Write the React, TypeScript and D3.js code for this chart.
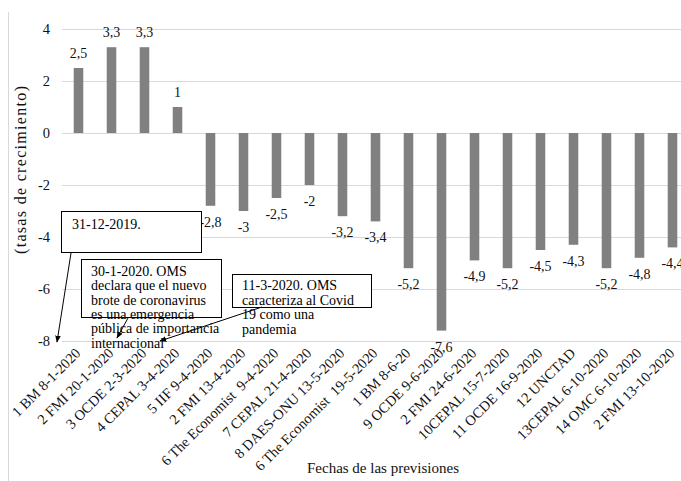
import React from "react";
import * as d3 from "d3";

const categories: string[] = [
  "1 BM 8-1-2020",
  "2 FMI 20-1-2020",
  "3 OCDE 2-3-2020",
  "4 CEPAL 3-4-2020",
  "5 IIF 9-4-2020",
  "2 FMI 13-4-2020",
  "6 The Economist  9-4-2020",
  "7 CEPAL 21-4-2020",
  "8 DAES-ONU 13-5-2020",
  "6 The Economist  19-5-2020",
  "1 BM 8-6-20",
  "9 OCDE 9-6-2020",
  "2 FMI 24-6-2020",
  "10CEPAL 15-7-2020",
  "11 OCDE 16-9-2020",
  "12 UNCTAD",
  "13CEPAL 6-10-2020",
  "14 OMC 6-10-2020",
  "2 FMI 13-10-2020",
];

const values: number[] = [
  2.5, 3.3, 3.3, 1, -2.8, -3, -2.5, -2, -3.2, -3.4, -5.2, -7.6, -4.9, -5.2, -4.5,
  -4.3, -5.2, -4.8, -4.4,
];

const yTicks: number[] = [4, 2, 0, -2, -4, -6, -8];

const yTitle = "(tasas de crecimiento)";
const xTitle = "Fechas de las previsiones";

const note1: string[] = ["31-12-2019."];
const note2: string[] = [
  "30-1-2020. OMS",
  "declara que el nuevo",
  "brote de coronavirus",
  "es una emergencia",
  "pública de importancia",
  "internacional",
];
const note3: string[] = ["11-3-2020. OMS", "caracteriza al Covid", "19 como una", "pandemia"];

const W = 681;
const H = 481;
const FONT = '"Liberation Serif", "Times New Roman", "DejaVu Serif", serif';
const TXT: React.CSSProperties = { fontFamily: FONT, whiteSpace: "pre" };

export default function App() {
  const x = d3.scaleBand<string>().domain(categories).range([62, 689]).paddingInner(0.71).paddingOuter(0.355);
  const y = d3.scaleLinear().domain([-8, 4]).range([341, 29]);
  const fmt = (v: number) => String(v).replace(".", ",");

  const box = (
    bx: number,
    by: number,
    bw: number,
    bh: number,
    lines: string[],
    tx: number,
    ty: number,
    lh: number,
    key: string
  ) => (
    <g key={key}>
      <rect x={bx} y={by} width={bw} height={bh} fill="white" stroke="#000" strokeWidth={1} />
      {lines.map((l, i) => (
        <text key={i} x={tx} y={ty + i * lh} fontSize={14} fill="#000" style={TXT}>
          {l}
        </text>
      ))}
    </g>
  );

  return (
    <svg width={W} height={H} style={{ position: "absolute", left: 0, top: 0, background: "white" }}>
      <defs>
        <marker id="ah" viewBox="0 0 10 10" refX="9" refY="5" markerWidth="7" markerHeight="7" orient="auto">
          <path d="M0,1 L10,5 L0,9 z" fill="#000" />
        </marker>
      </defs>
      <rect x={0} y={0} width={W} height={H} fill="white" />
      <line x1={8.5} x2={8.5} y1={12} y2={H} stroke="#d9d9d9" strokeWidth={1} />

      {yTicks.map((t) => (
        <g key={t}>
          <line x1={62} x2={689} y1={y(t) + 0.5} y2={y(t) + 0.5} stroke="#d9d9d9" strokeWidth={1} />
          <text x={50} y={y(t)} dy="0.35em" textAnchor="end" fontSize={14.5} fill="#111" style={TXT}>
            {t}
          </text>
        </g>
      ))}

      {values.map((v, i) => {
        const c = categories[i];
        const x0 = x(c)!;
        const top = Math.min(y(v), y(0));
        const h = Math.abs(y(v) - y(0));
        return <rect key={i} x={x0} y={top} width={x.bandwidth()} height={h} fill="#808080" />;
      })}

      {values.map((v, i) => {
        const cx = x(categories[i])! + x.bandwidth() / 2;
        const ly = v >= 0 ? y(v) - 10 : y(v) + 21;
        return (
          <text key={i} x={cx} y={ly} textAnchor="middle" fontSize={14} fill="#111" style={TXT}>
            {fmt(v)}
          </text>
        );
      })}

      {categories.map((c, i) => {
        const cx = x(c)! + x.bandwidth() / 2;
        return (
          <text
            key={i}
            transform={`translate(${cx + 3},${354}) rotate(-45)`}
            textAnchor="end"
            fontSize={14.5}
            fill="#111"
            style={TXT}
          >
            {c}
          </text>
        );
      })}

      <text
        transform={`translate(26,170) rotate(-90)`}
        textAnchor="middle"
        fontSize={16}
        fill="#111"
        textLength={168}
        lengthAdjust="spacing"
        style={TXT}
      >
        {yTitle}
      </text>
      <text x={383} y={473} textAnchor="middle" fontSize={15} fill="#111" style={TXT}>
        {xTitle}
      </text>

      {box(61.5, 211.5, 140, 41, note1, 72, 229, 14.3, "n1")}
      {box(81.5, 259.5, 140, 58, note2, 91, 276, 14.3, "n2")}
      {box(232.5, 274.5, 139, 33, note3, 242, 290, 14.7, "n3")}

      <line x1={71} y1={253} x2={57} y2={342} stroke="#000" strokeWidth={1} markerEnd="url(#ah)" />
      <line x1={128} y1={318} x2={117} y2={338} stroke="#000" strokeWidth={1} markerEnd="url(#ah)" />
      <line x1={262} y1={307} x2={160} y2={341} stroke="#000" strokeWidth={1} markerEnd="url(#ah)" />
    </svg>
  );
}
